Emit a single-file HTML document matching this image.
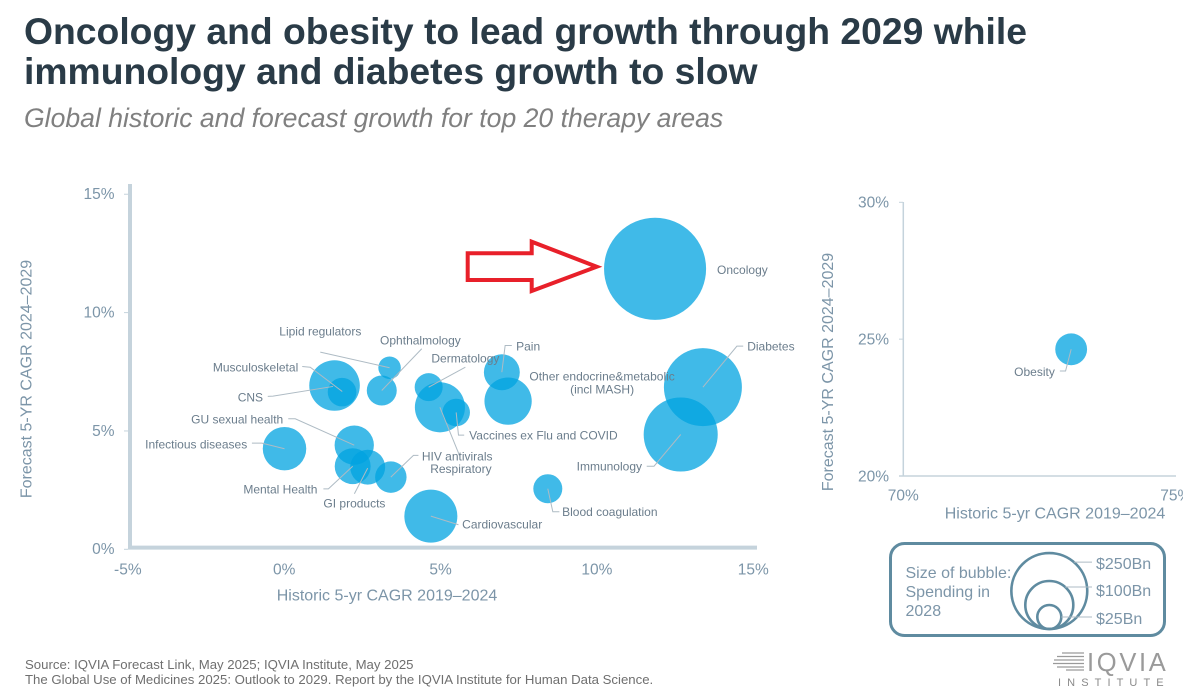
<!DOCTYPE html>
<html lang="en">
<head>
<meta charset="utf-8">
<title>Oncology and obesity growth through 2029</title>
<style>
html,body{margin:0;padding:0;background:#fff;width:1183px;height:693px;overflow:hidden}
svg{display:block;font-family:"Liberation Sans",sans-serif}
.tick{font-size:15.5px;fill:#7c95a8}
.atitle{font-size:16px;fill:#7c95a8}
.lbl{font-size:12px;fill:#6b7d8c}
.leader{fill:none;stroke:#aebbc4;stroke-width:1}
.bub{fill:#00a3e0;fill-opacity:.75}
.lg{font-size:16px;fill:#7c95a8}
</style>
</head>
<body>
<svg id="root" width="1183" height="693" viewBox="0 0 1183 693">
  <text x="24" y="44" font-size="37.3" font-weight="700" fill="#2a3b47">Oncology and obesity to lead growth through 2029 while</text>
  <text x="24" y="84" font-size="37.3" font-weight="700" fill="#2a3b47">immunology and diabetes growth to slow</text>
  <text x="24" y="127" font-size="26.6" font-style="italic" fill="#808080">Global historic and forecast growth for top 20 therapy areas</text>

  <g id="mainAxes"></g>
  <g id="sideAxes"></g>
  <g id="bubbles"></g>
  <g id="leaders"></g>
  <g id="labels"></g>

  <polygon points="467.7,253.3 531.7,253.3 531.7,241.7 596.7,266.7 531.7,291 531.7,280 467.7,280" fill="#fff" fill-opacity="0" stroke="#e8202a" stroke-width="4" stroke-linejoin="miter"/>

  <g>
    <rect x="890.5" y="543.5" width="274" height="92" rx="14" ry="14" fill="#fff" stroke="#5f8ba0" stroke-width="3"/>
    <text class="lg" x="905.5" y="578">Size of bubble:</text>
    <text class="lg" x="905.5" y="597">Spending in</text>
    <text class="lg" x="905.5" y="616">2028</text>
    <g id="legendMarks"></g>
  </g>

  <text x="25" y="669" font-size="13.2" fill="#6f6f6f">Source: IQVIA Forecast Link, May 2025; IQVIA Institute, May 2025</text>
  <text x="25" y="684" font-size="13.2" fill="#6f6f6f">The Global Use of Medicines 2025: Outlook to 2029. Report by the IQVIA Institute for Human Data Science.</text>

  <g>
    <g stroke="#9a9a9a" stroke-width="1.3">
      <line x1="1062" y1="653" x2="1084" y2="653"/>
      <line x1="1057" y1="656.5" x2="1084" y2="656.5"/>
      <line x1="1054" y1="660" x2="1084" y2="660"/>
      <line x1="1053" y1="663.5" x2="1084" y2="663.5"/>
      <line x1="1057" y1="667" x2="1084" y2="667"/>
      <line x1="1066" y1="670" x2="1084" y2="670"/>
    </g>
    <text x="1087" y="671" font-size="25.5" fill="#9a9a9a" letter-spacing="2.7">IQVIA</text>
    <text x="1058" y="686" font-size="11" fill="#8a8a8a" letter-spacing="6.1">INSTITUTE</text>
  </g>
</svg>
<script>
// ---- main chart data ----
const therapyAreas = ["Oncology","Diabetes","Immunology","Pain","Other endocrine&metabolic","Dermatology","Respiratory","Vaccines ex Flu and COVID","Blood coagulation","Cardiovascular","HIV antivirals","GI products","Mental Health","GU sexual health","Infectious diseases","Musculoskeletal","CNS","Ophthalmology","Lipid regulators"];
const historicCagr = [11.86,13.39,12.68,6.96,7.16,4.62,4.98,5.5,8.43,4.69,3.41,2.67,2.19,2.24,0.01,1.61,1.85,3.12,3.37];
const forecastCagr = [11.85,6.85,4.85,7.48,6.26,6.85,6.0,5.78,2.56,1.4,3.05,3.47,3.51,4.4,4.25,6.92,6.64,6.71,7.67];
const spending2028 = [452,264,238,56,97,34,109,33,36.5,122,43,53,56,67,82,111,35.5,39,22];

// ---- obesity inset data ----
const insetAreas = ["Obesity"];
const insetHistoric = [73.08];
const insetForecast = [24.63];
const insetSpending = [44];

// ---- axis ticks ----
const mainXTicks = [-5,0,5,10,15];
const mainYTicks = [0,5,10,15];
const insetXTicks = [70,75];
const insetYTicks = [20,25,30];
const legendSizes = [250,100,25];

// ---- axis functions ----
function mainX(v){return 284.2+31.27*v;}
function mainY(v){return 549.3-23.67*v;}
function insetX(v){return 903.3+54.5*(v-70);}
function insetY(v){return 476-27.37*(v-20);}
function radius(s){return 2.4*Math.sqrt(s);}

// ---- label placement relative to each bubble centre (layout, not data) ----
const labelLayout = {
  "Oncology":{dx:62,dy:1,a:"start",pts:[]},
  "Diabetes":{dx:44.3,dy:-41,a:"start",pts:[[0,0],[34,-41],[40.3,-41]]},
  "Immunology":{dx:-38.7,dy:32,a:"end",pts:[[0,0],[-26.7,31.7],[-34,31.7]]},
  "Pain":{dx:14.3,dy:-25.7,a:"start",pts:[[0,0],[3.3,-26.7],[10,-26.7]]},
  "Other endocrine&metabolic":{dx:94,dy:-24.7,a:"middle",pts:[],second:"(incl MASH)",dy2:-11.7},
  "Dermatology":{dx:2.7,dy:-28.7,a:"start",pts:[[0,0],[36.7,-20]]},
  "Respiratory":{dx:-9.7,dy:61.3,a:"start",pts:[[0,0],[19.6,48.3]]},
  "Vaccines ex Flu and COVID":{dx:13,dy:22.7,a:"start",pts:[[0,0],[2.3,22.7],[8,22.7]]},
  "Blood coagulation":{dx:14.3,dy:23,a:"start",pts:[[0,0],[5,23],[11.6,23]]},
  "Cardiovascular":{dx:31.3,dy:8.3,a:"start",pts:[[0,0],[27.6,8.6]]},
  "HIV antivirals":{dx:31,dy:-20.7,a:"start",pts:[[0,0],[22.6,-21.7],[27.6,-21.7]]},
  "GI products":{dx:-44.3,dy:36.3,a:"start",pts:[[0,1],[-13.3,26.6]]},
  "Mental Health":{dx:-35.3,dy:23.3,a:"end",pts:[[0,0],[-24.3,22.6],[-29.3,22.6]]},
  "GU sexual health":{dx:-71,dy:-25.7,a:"end",pts:[[0,0],[-59,-26.4],[-66,-26.4]]},
  "Infectious diseases":{dx:-37.3,dy:-4.3,a:"end",pts:[[0,0],[-22.6,-5.6],[-32.6,-5.6]]},
  "Musculoskeletal":{dx:-36.3,dy:-18,a:"end",pts:[[7.7,6],[-24.3,-18.3],[-32.3,-19]]},
  "CNS":{dx:-79,dy:5.3,a:"end",pts:[[-9,-5.7],[-69,4],[-74.3,4.3]]},
  "Ophthalmology":{dx:-1.7,dy:-50,a:"start",pts:[[0,0],[40,-41.7]]},
  "Lipid regulators":{dx:-110.3,dy:-36.3,a:"start",pts:[[0,0],[-69.3,-15.6]]},
  "Obesity":{dx:-16.3,dy:22.7,a:"end",pts:[[0,0],[-5.6,21.7],[-11.3,21.7]]}
};

const NS = "http://www.w3.org/2000/svg";
function slug(s){return s.toLowerCase().replace(/[^a-z0-9]+/g,"-").replace(/^-|-$/g,"");}
function make(tag,parent,attrs){
  const el=document.createElementNS(NS,tag);
  for(const k in attrs){el.setAttribute(k,attrs[k]);}
  parent.appendChild(el);
  return el;
}
function drawLine(parent,x1,y1,x2,y2,color,width,name){
  const el=make("line",parent,{x1:x1,y1:y1,x2:x2,y2:y2,stroke:color,"stroke-width":width});
  
  
  return el;
}
function drawText(parent,x,cy,str,cls,anchor,name){
  const fs=cls==="lbl"?12:15.5;
  const el=make("text",parent,{x:x,y:cy+fs*0.35,"class":cls,"text-anchor":anchor});
  el.textContent=str;
  
  
  return el;
}
function drawVerticalTitle(parent,x,cy,str,name){
  const el=make("text",parent,{x:x,y:cy,"class":"atitle","text-anchor":"middle",transform:"rotate(-90 "+x+" "+cy+")"});
  el.textContent=str;
  
  
}

const axisColor="#c5d3dc";
const mainAxes=document.getElementById("mainAxes");
drawLine(mainAxes,130,184,130,549.5,axisColor,4,"main-y-axis");
drawLine(mainAxes,128,547.6,757,547.6,axisColor,4,"main-x-axis");
mainYTicks.forEach(function(t){
  drawLine(mainAxes,124,mainY(t),128,mainY(t),axisColor,1,"main-y-tick-"+t);
  drawText(mainAxes,114.5,mainY(t)-0.5,t+"%","tick","end","main-y-tick-label-"+t);
});
mainXTicks.forEach(function(t){
  drawText(mainAxes,mainX(t),569,t+"%","tick","middle","main-x-tick-label-"+t);
});
drawText(mainAxes,387,595,"Historic 5-yr CAGR 2019–2024","atitle","middle","main-x-axis-title");
drawVerticalTitle(mainAxes,31.5,379,"Forecast 5-YR CAGR 2024–2029","main-y-axis-title");

const sideAxes=document.getElementById("sideAxes");
drawLine(sideAxes,903.3,202,903.3,476,axisColor,1.5,"inset-y-axis");
drawLine(sideAxes,899,476,1176,476,axisColor,1.5,"inset-x-axis");
insetYTicks.forEach(function(t){
  drawLine(sideAxes,899,insetY(t),903,insetY(t),axisColor,1,"inset-y-tick-"+t);
  drawText(sideAxes,889,insetY(t),t+"%","tick","end","inset-y-tick-label-"+t);
});
insetXTicks.forEach(function(t){
  drawText(sideAxes,insetX(t),495,t+"%","tick","middle","inset-x-tick-label-"+t);
});
drawText(sideAxes,1055,513,"Historic 5-yr CAGR 2019–2024","atitle","middle","inset-x-axis-title");
drawVerticalTitle(sideAxes,833,372,"Forecast 5-YR CAGR 2024–2029","inset-y-axis-title");

const bubbleLayer=document.getElementById("bubbles");
const leaderLayer=document.getElementById("leaders");
const labelLayer=document.getElementById("labels");

function drawBubble(name,cx,cy,r){
  const circle=make("circle",bubbleLayer,{cx:cx,cy:cy,r:r,"class":"bub"});
  
  
  const lay=labelLayout[name];
  if(lay.pts.length){
    const pts=lay.pts.map(function(p){return (cx+p[0])+","+(cy+p[1]);}).join(" ");
    const line=make("polyline",leaderLayer,{points:pts,"class":"leader"});
    
    
  }
  drawText(labelLayer,cx+lay.dx,cy+lay.dy,name,"lbl",lay.a,"label-"+slug(name));
  if(lay.second){
    drawText(labelLayer,cx+lay.dx,cy+lay.dy2,lay.second,"lbl",lay.a,"label-"+slug(name)+"-line-2");
  }
}
therapyAreas.forEach(function(name,i){
  drawBubble(name,mainX(historicCagr[i]),mainY(forecastCagr[i]),radius(spending2028[i]));
});
insetAreas.forEach(function(name,i){
  drawBubble(name,insetX(insetHistoric[i]),insetY(insetForecast[i]),radius(insetSpending[i]));
});

// size legend: concentric circles sharing a common bottom point
const legendMarks=document.getElementById("legendMarks");
const legendBottom=629;
legendSizes.forEach(function(s,i){
  const r=radius(s);
  const c=make("circle",legendMarks,{cx:1049.3,cy:legendBottom-r,r:r,fill:"none",stroke:"#5f8ba0","stroke-width":2.6});
  
  
  const top=legendBottom-2*r;
  const ly=top+(i===0?9:i===1?6:12);
  const half=Math.sqrt(Math.max(r*r-Math.pow(ly-(legendBottom-r),2),0));
  drawLine(legendMarks,1049.3+half,ly,1092,ly,"#aebbc4",1,"legend-leader-"+s);
  drawText(legendMarks,1096,ly+(i===1?3.5:1.5),"$"+s+"Bn","lg","start","legend-label-"+s);
});
</script>
</body>
</html>
